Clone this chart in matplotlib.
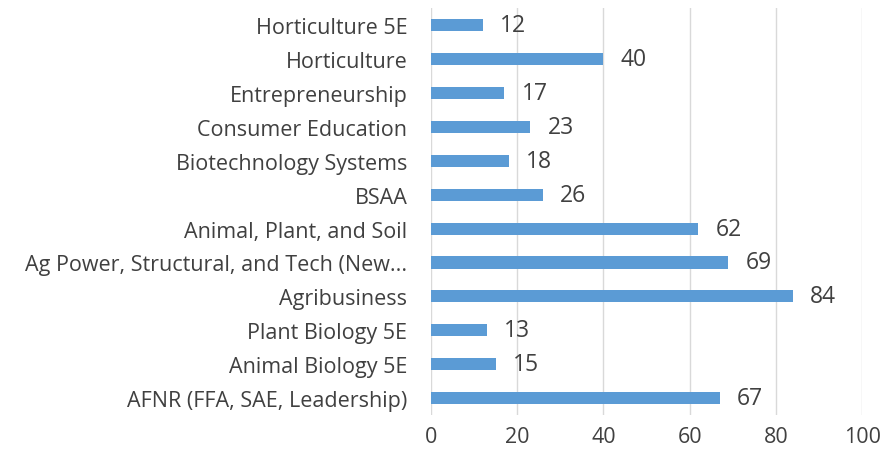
import matplotlib.pyplot as plt

categories = ['AFNR (FFA, SAE, Leadership)', 'Animal Biology 5E', 'Plant Biology 5E',
              'Agribusiness', 'Ag Power, Structural, and Tech (New...', 'Animal, Plant, and Soil',
              'BSAA', 'Biotechnology Systems', 'Consumer Education', 'Entrepreneurship',
              'Horticulture', 'Horticulture 5E']
values = [67, 15, 13, 84, 69, 62, 26, 18, 23, 17, 40, 12]
x_ticks = [0, 20, 40, 60, 80, 100]

plt.rcParams['font.family'] = ['Open Sans', 'DejaVu Sans']
text_color = '#404040'

fig = plt.figure(figsize=(8.86, 4.6), dpi=100)
ax = fig.add_axes([0.4865, 0.0957, 0.4865, 0.884])

y = range(len(categories))
ax.barh(y, values, height=0.36, color='#5B9BD5', zorder=3)
for i, v in enumerate(values):
    ax.text(v + 4, i, str(v), va='center', ha='left', fontsize=16.5, color=text_color)

ax.set_xlim(0, 100)
ax.set_ylim(-0.5, len(categories) - 0.5)
ax.set_xticks(x_ticks)
ax.set_yticks(list(y))
ax.set_yticklabels(categories)
ax.tick_params(axis='both', length=0, labelsize=15.5, colors=text_color)
ax.tick_params(axis='x', pad=8)
ax.tick_params(axis='y', pad=17)
ax.grid(axis='x', color='#D9D9D9', linewidth=1, zorder=0)
for s in ax.spines.values():
    s.set_visible(False)

fig.savefig('out.png', dpi=100)
